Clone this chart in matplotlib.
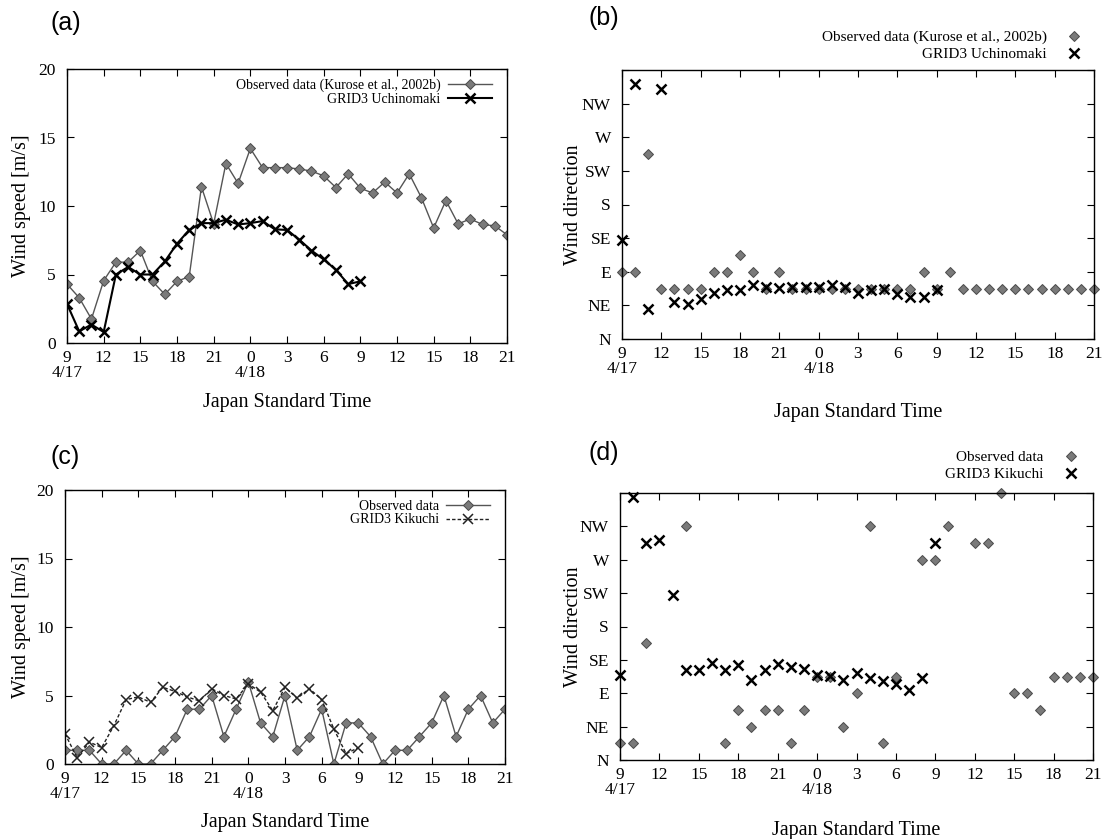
import numpy as np
import matplotlib
matplotlib.use("Agg")
import matplotlib.pyplot as plt

# ---- hourly series, 09:00 4/17 -> 21:00 4/18 ----
hours = np.arange(37)
nan = np.nan

# (a) wind speed, Uchinomaki
obs_speed_a = [4.3, 3.3, 1.75, 4.55, 5.9, 5.9, 6.75, 4.5, 3.55, 4.5, 4.85, 11.4, 8.7,
               13.1, 11.65, 14.2, 12.8, 12.8, 12.8, 12.7, 12.55, 12.2, 11.35, 12.35,
               11.3, 10.95, 11.75, 10.95, 12.35, 10.6, 8.4, 10.4, 8.7, 9.05, 8.65, 8.55, 7.9]
grid_speed_a = [2.85, 0.85, 1.35, 0.8, 5.0, 5.55, 5.0, 5.0, 5.95, 7.25, 8.25, 8.75, 8.75,
                9.0, 8.65, 8.75, 8.9, 8.3, 8.25, 7.55, 6.75, 6.1, 5.35, 4.3, 4.5]

# (b) wind direction (deg), Uchinomaki
obs_dir_b = [90, 90, 247.5, 67.5, 67.5, 67.5, 67.5, 90, 90, 112.5, 90, 67.5, 90,
             67.5, 67.5, 67.5, 67.5, 67.5, 67.5, 67.5, 67.5, 67.5, 67.5, 90, 67.5, 90,
             67.5, 67.5, 67.5, 67.5, 67.5, 67.5, 67.5, 67.5, 67.5, 67.5, 67.5]
grid_dir_b = [133, 341, 40, 334, 50, 47, 54, 62, 65, 65, 72, 69.5, 68, 70, 69.5, 70,
              72, 69.5, 61.5, 66, 67, 60, 56, 56, 66]

# (c) wind speed, Kikuchi
obs_speed_c = [1, 1, 1, 0, 0, 1, 0, 0, 1, 2, 4, 4, 5, 2, 4, 6, 3, 2, 5, 1, 2, 4, 0, 3,
               3, 2, 0, 1, 1, 2, 3, 5, 2, 4, 5, 3, 4]
grid_speed_c = [2.2, 0.45, 1.6, 1.2, 2.8, 4.7, 4.9, 4.5, 5.6, 5.3, 4.9, 4.6, 5.5, 5.0,
                4.75, 5.85, 5.25, 3.9, 5.6, 4.8, 5.5, 4.7, 2.55, 0.75, 1.2]

# (d) wind direction (deg), Kikuchi
obs_dir_d = [22.5, 22.5, 157.5, nan, nan, 315, nan, nan, 22.5, 67.5, 45, 67.5, 67.5,
             22.5, 67.5, 112.5, 112.5, 45, 90, 315, 22.5, 112.5, nan, 270, 270, 315,
             nan, 292.5, 292.5, 360, 90, 90, 67.5, 112.5, 112.5, 112.5, 112.5]
grid_dir_d = [115, 355, 292.5, 297, 222, 121, 122, 131, 121, 128, 108, 122, 129, 126,
              123, 115, 113, 108, 117, 111, 107, 103, 95, 110, 292]

xticks = np.arange(0, 37, 3)
xticklabels = ["9\n4/17", "12", "15", "18", "21", "0\n4/18", "3", "6", "9",
               "12", "15", "18", "21"]
dir_ticks = np.arange(0, 361, 45)
dir_labels = ["N", "NE", "E", "SE", "S", "SW", "W", "NW", ""]

plt.rcParams["font.family"] = ["Liberation Serif", "DejaVu Serif"]
plt.rcParams["axes.linewidth"] = 1.0

W, H = 1110, 839
fig = plt.figure(figsize=(W / 100, H / 100), dpi=100)


def axes_px(left, top, right, bottom):
    return fig.add_axes([left / W, 1 - bottom / H, (right - left) / W, (bottom - top) / H])


def style(ax, xlab_y, ylab_x, ylabel):
    ax.set_xlim(0, 36)
    ax.set_xticks(xticks)
    ax.set_xticklabels(xticklabels, fontsize=12.5)
    for lbl in ax.get_xticklabels():
        lbl.set_linespacing(0.95)
    ax.tick_params(direction="in", top=True, right=True, length=5, width=0.8,
                   labelsize=12.5, pad=5)
    ax.tick_params(axis="y", pad=8)
    # axis titles placed in pixel coordinates
    bb = ax.get_position()
    x0, x1 = bb.x0 * W, bb.x1 * W
    y0, y1 = (1 - bb.y1) * H, (1 - bb.y0) * H
    ax.set_xlabel("Japan Standard Time", fontsize=14.5, va="center")
    ax.xaxis.set_label_coords(0.5, (y1 - xlab_y) / (y1 - y0))
    ax.set_ylabel(ylabel, fontsize=14.5, va="center")
    ax.yaxis.set_label_coords((ylab_x - x0) / (x1 - x0), 0.5)


speed_line = dict(color="#555555", lw=1.0, marker="D", ms=5.5, mfc="#7a7a7a",
                  mec="#4a4a4a", mew=0.7)
dir_obs = dict(ls="none", marker="D", ms=5.5, mfc="#7a7a7a", mec="#4a4a4a", mew=0.7,
               clip_on=False)
dir_grid = dict(ls="none", marker="x", ms=7.5, color="black", mew=1.8, clip_on=False)

# ---- (a) ----
ax = axes_px(67, 69, 507, 343)
ax.plot(hours, obs_speed_a, label="Observed data (Kurose et al., 2002b)", **speed_line)
ax.plot(hours[:len(grid_speed_a)], grid_speed_a, color="black", lw=1.5, marker="x",
        ms=7.5, mew=1.8, label="GRID3 Uchinomaki")
ax.set_ylim(0, 20)
ax.set_yticks([0, 5, 10, 15, 20])
style(ax, 402, 22, "Wind speed [m/s]")
ax.legend(loc="upper right", bbox_to_anchor=(0.985, 0.995), frameon=False, fontsize=10,
          markerfirst=False, handlelength=3.2, handletextpad=0.5, labelspacing=0.05,
          numpoints=1, borderaxespad=0.2)
fig.text(50 / W, 1 - 23 / H, "(a)", fontsize=18, family="Liberation Sans", va="center")

# ---- (b) ----
ax = axes_px(622, 70, 1094, 339)
ax.plot(hours, obs_dir_b, label="Observed data (Kurose et al., 2002b)", **dir_obs)
ax.plot(hours[:len(grid_dir_b)], grid_dir_b, label="GRID3 Uchinomaki", **dir_grid)
ax.set_ylim(0, 360)
ax.set_yticks(dir_ticks)
ax.set_yticklabels(dir_labels)
style(ax, 412, 574, "Wind direction")
ax.legend(loc="lower right", bbox_to_anchor=(1.0 - 6 / 472, 1.0 + 3 / 269), frameon=False,
          fontsize=11, markerfirst=False, handlelength=1.0, handletextpad=1.3,
          labelspacing=0.2, numpoints=1, borderaxespad=0.0)
fig.text(588 / W, 1 - 18 / H, "(b)", fontsize=18, family="Liberation Sans", va="center")

# ---- (c) ----
ax = axes_px(65, 490, 505, 764)
ax.plot(hours, obs_speed_c, label="Observed data", **speed_line)
ax.plot(hours[:len(grid_speed_c)], grid_speed_c, color="#222222", lw=1.0, ls=(0, (2.5, 1.5)),
        marker="x", ms=7, mew=1.1, label="GRID3 Kikuchi")
ax.set_ylim(0, 20)
ax.set_yticks([0, 5, 10, 15, 20])
style(ax, 822, 22, "Wind speed [m/s]")
ax.legend(loc="upper right", bbox_to_anchor=(0.985, 0.995), frameon=False, fontsize=10,
          markerfirst=False, handlelength=3.2, handletextpad=0.5, labelspacing=0.05,
          numpoints=1, borderaxespad=0.2)
fig.text(51 / W, 1 - 457 / H, "(c)", fontsize=18, family="Liberation Sans", va="center")

# ---- (d) ----
ax = axes_px(620, 493, 1093, 760)
ax.plot(hours, obs_dir_d, label="Observed data", **dir_obs)
ax.plot(hours[:len(grid_dir_d)], grid_dir_d, label="GRID3 Kikuchi", **dir_grid)
ax.set_ylim(0, 360)
ax.set_yticks(dir_ticks)
ax.set_yticklabels(dir_labels)
style(ax, 830, 574, "Wind direction")
ax.legend(loc="lower right", bbox_to_anchor=(1.0 - 8 / 473, 1.0 + 6 / 267), frameon=False,
          fontsize=11, markerfirst=False, handlelength=1.0, handletextpad=1.3,
          labelspacing=0.2, numpoints=1, borderaxespad=0.0)
fig.text(588 / W, 1 - 453 / H, "(d)", fontsize=18, family="Liberation Sans", va="center")

fig.savefig("out.png", dpi=100)
